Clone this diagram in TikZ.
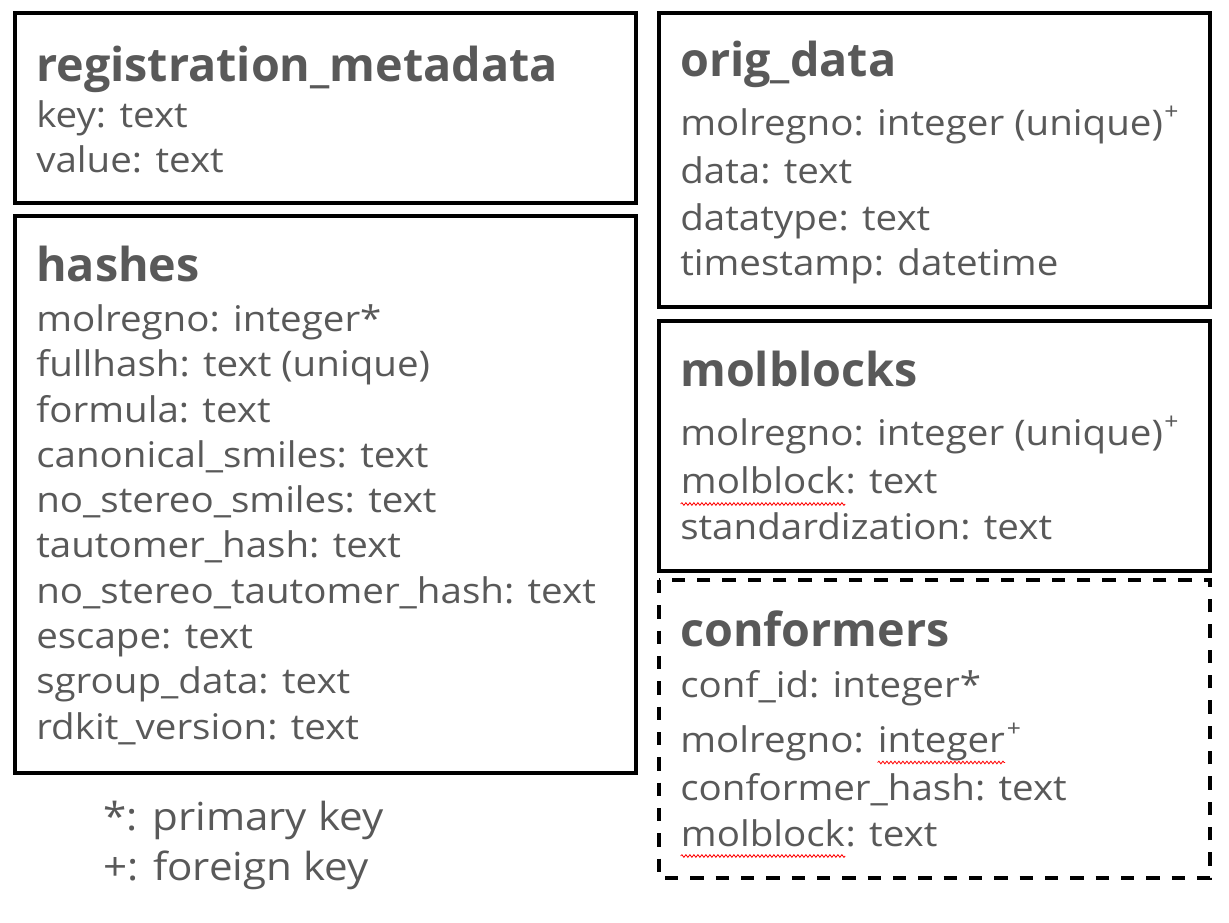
\documentclass[tikz,border=0pt]{standalone}
\usepackage{fontspec}
\setmainfont[FakeStretch=1.09]{Open Sans}
\newfontfamily\headfont{Open Sans}
\usetikzlibrary{decorations.pathmorphing}
\definecolor{ink}{HTML}{595959}

% red wavy spell-check underline beneath a word
\newcommand{\wavyword}[1]{\tikz[baseline=(w.base)]{%
  \node[inner sep=0pt, anchor=base west] (w) at (0,0) {#1};
  \draw[red, line width=0.6pt, decorate,
        decoration={snake, amplitude=1pt, segment length=3pt}]
    ([yshift=-7.5pt]w.base west) -- ([yshift=-7.5pt]w.base east);}}
% foreign-key mark
\newcommand{\fkmark}{\kern1pt\raisebox{12pt}{\fontsize{17}{17}\selectfont+}}

\begin{document}
\begin{tikzpicture}[x=0.75pt, y=-0.75pt,
  tbl/.style={draw=black, line width=2.3pt},
  tbldash/.style={draw=black, line width=2.6pt, dash pattern=on 10pt off 9pt},
  title/.style={anchor=base west, inner sep=0pt, text=ink,
                font=\headfont\fontsize{35}{38}\selectfont\bfseries},
  row/.style={anchor=base west, inner sep=0pt, text=ink,
              font=\fontsize{26.5}{29}\selectfont},
  legend/.style={anchor=base west, inner sep=0pt, text=ink,
              font=\fontsize{29}{32}\selectfont}]
\useasboundingbox (0,0) rectangle (1229,923);

% table frames
\draw[tbl] (15,13) rectangle (636,203);
\draw[tbl] (15,216) rectangle (636,773);
\draw[tbl] (659,13) rectangle (1210,307);
\draw[tbl] (659,321) rectangle (1210,571);
\draw[tbldash] (659,580) rectangle (1210,878);

% registration_metadata
\node[title] (rmT) at (36,81.7) {registration\_metadata};
\node[row] (rm1) at (36,127.5) {key: text};
\node[row] (rm2) at (36,172.5) {value: text};

% hashes
\node[title] (hT) at (36,281.7) {hashes};
\node[row] (h1) at (36,331.5) {molregno: integer*};
\node[row] (h2) at (36,376.8) {fullhash: text (unique)};
\node[row] (h3) at (36,422.1) {formula: text};
\node[row] (h4) at (36,467.4) {canonical\_smiles: text};
\node[row] (h5) at (36,512.7) {no\_stereo\_smiles: text};
\node[row] (h6) at (36,558) {tautomer\_hash: text};
\node[row] (h7) at (36,603.3) {no\_stereo\_tautomer\_hash: text};
\node[row] (h8) at (36,648.6) {escape: text};
\node[row] (h9) at (36,693.9) {sgroup\_data: text};
\node[row] (h10) at (36,739.2) {rdkit\_version: text};

% orig_data
\node[title] (oT) at (680,76.7) {orig\_data};
\node[row] (o1) at (680,136) {molregno: integer (unique)\fkmark};
\node[row] (o2) at (680,184) {data: text};
\node[row] (o3) at (680,231) {datatype: text};
\node[row] (o4) at (680,276) {timestamp: datetime};

% molblocks
\node[title] (mT) at (680,386.7) {molblocks};
\node[row] (m1) at (680,446) {molregno: integer (unique)\fkmark};
\node[row] (m2) at (680,494) {\wavyword{molblock}: text};
\node[row] (m3) at (680,540) {standardization: text};

% conformers
\node[title] (cT) at (680,646.7) {conformers};
\node[row] (c1) at (680,697) {conf\_id: integer*};
\node[row] (c2) at (680,752.5) {molregno: \wavyword{integer}\fkmark};
\node[row] (c3) at (680,800) {conformer\_hash: text};
\node[row] (c4) at (680,846) {\wavyword{molblock}: text};

% legend
\node[legend] (k1) at (103,830) {*: primary key};
\node[legend] (k2) at (103,880) {+: foreign key};
\end{tikzpicture}
\end{document}
